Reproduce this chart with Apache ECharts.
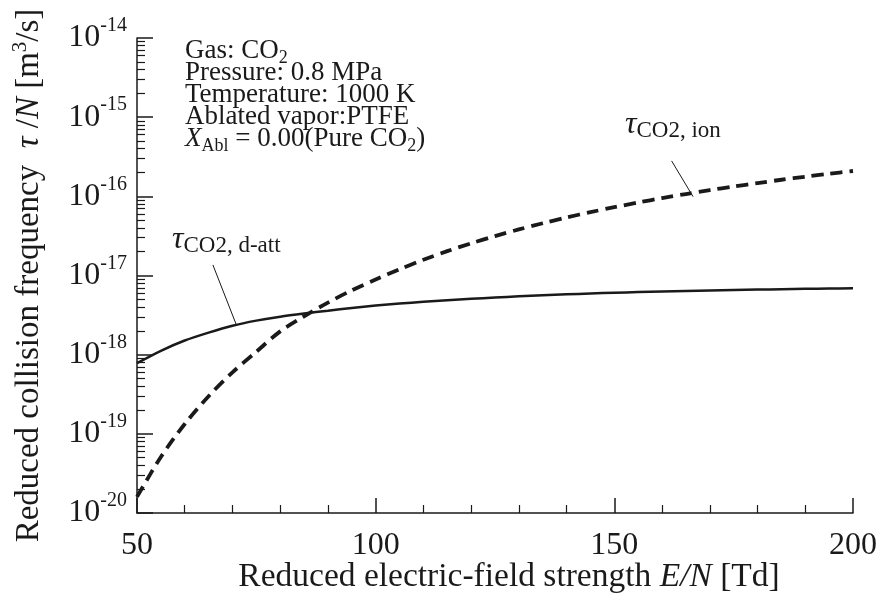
<!DOCTYPE html>
<html>
<head>
<meta charset="utf-8">
<title>Reduced collision frequency</title>
<style>
  html, body { margin: 0; padding: 0; background: #fff; }
  #chart { width: 879px; height: 593px; }
</style>
</head>
<body>
<div id="chart"></div>
<script src="https://cdn.jsdelivr.net/npm/echarts@6/dist/echarts.min.js"></script>
<script>
  // reduced electric-field strength E/N [Td]
  var fieldStrength = [50, 55, 60, 65, 70, 75, 80, 85, 90, 95, 100, 105, 110, 115, 120, 125,
                       130, 135, 140, 145, 150, 155, 160, 165, 170, 175, 180, 185, 190, 195, 200];
  // tau_CO2,d-att / N [m3/s]  (solid)
  var tauDatt = [7.8e-19, 1.12e-18, 1.51e-18, 1.9e-18, 2.32e-18, 2.69e-18, 3.02e-18, 3.31e-18,
                 3.59e-18, 3.89e-18, 4.17e-18, 4.42e-18, 4.66e-18, 4.88e-18, 5.08e-18, 5.27e-18,
                 5.46e-18, 5.62e-18, 5.78e-18, 5.93e-18, 6.05e-18, 6.17e-18, 6.28e-18, 6.38e-18,
                 6.47e-18, 6.56e-18, 6.64e-18, 6.71e-18, 6.78e-18, 6.84e-18, 6.89e-18];
  // tau_CO2,ion / N [m3/s]  (dashed)
  var tauIon = [1.6e-20, 5.1e-20, 1.33e-19, 2.99e-19, 5.97e-19, 1.09e-18, 1.97e-18, 3.05e-18,
                4.55e-18, 6.5e-18, 8.9e-18, 1.2e-17, 1.58e-17, 2.03e-17, 2.55e-17, 3.15e-17,
                3.82e-17, 4.57e-17, 5.41e-17, 6.31e-17, 7.3e-17, 8.36e-17, 9.5e-17, 1.07e-16,
                1.2e-16, 1.33e-16, 1.47e-16, 1.62e-16, 1.77e-16, 1.93e-16, 2.09e-16];
  // y axis decades (tick labels 10^n) and minor tick multipliers
  var yExponents = [-20, -19, -18, -17, -16, -15, -14];
  var yMinorMult = [2, 3, 4, 5, 6, 7, 8, 9];

  var FONT = '"Liberation Serif", "DejaVu Serif", serif';
  var INK = '#1a1a1a';

  var yMajor = yExponents.map(function (e) { return Math.pow(10, e); });
  var yMinor = [];
  for (var i = 0; i < yExponents.length - 1; i++) {
    for (var j = 0; j < yMinorMult.length; j++) {
      yMinor.push(yMinorMult[j] * Math.pow(10, yExponents[i]));
    }
  }

  function pairs(ys) {
    return fieldStrength.map(function (x, k) { return [x, ys[k]]; });
  }

  var chart = echarts.init(document.getElementById('chart'), null, { renderer: 'canvas' });

  // condition box, top-left
  var infoLines = [
    'Gas: CO{sub|2}',
    'Pressure: 0.8 MPa',
    'Temperature: 1000 K',
    'Ablated vapor:PTFE',
    '{it|X}{sub|Abl} = 0.00(Pure CO{sub|2})'
  ];
  var infoGraphics = infoLines.map(function (t, k) {
    return {
      type: 'text', x: 185, y: 51 + k * 22, z: 10,
      style: {
        text: t, fill: INK, fontFamily: FONT, fontSize: 27, textVerticalAlign: 'middle',
        rich: {
          sub: { fontFamily: FONT, fontSize: 18, padding: [14, 0, 0, 0], fill: INK },
          it: { fontFamily: FONT, fontSize: 27, fontStyle: 'italic', fill: INK }
        }
      }
    };
  });

  function tauLabel(x, y, subText) {
    return {
      type: 'text', x: x, y: y, z: 10,
      style: {
        text: '{t|τ}{s|' + subText + '}', fill: INK, textVerticalAlign: 'middle',
        rich: {
          t: { fontFamily: FONT, fontSize: 32, fontStyle: 'italic', fill: INK },
          s: { fontFamily: FONT, fontSize: 23, padding: [12, 0, 0, 0], fill: INK }
        }
      }
    };
  }

  chart.setOption({
    backgroundColor: '#fff',
    animation: false,
    grid: { left: 137, right: 26, top: 38, bottom: 80, containLabel: false, outerBoundsMode: 'none' },
    xAxis: {
      type: 'value', min: 50, max: 200, interval: 50,
      axisLine: { lineStyle: { color: INK, width: 1.5 } },
      axisTick: { inside: true, length: 15, lineStyle: { color: INK, width: 1.5 } },
      minorTick: { show: true, splitNumber: 5, length: 8, lineStyle: { color: INK, width: 1.2 } },
      splitLine: { show: false },
      axisLabel: { margin: 17, color: INK, fontFamily: FONT, fontSize: 32, showMinLabel: true, showMaxLabel: true },
      name: 'Reduced electric-field strength {i|E/N} [Td]',
      nameLocation: 'middle', nameGap: 47, nameMoveOverlap: false,
      nameTextStyle: {
        color: INK, fontFamily: FONT, fontSize: 33.5, padding: [0, 0, 0, 28],
        rich: { i: { fontFamily: FONT, fontSize: 33.5, fontStyle: 'italic', color: INK } }
      }
    },
    yAxis: [{
      type: 'log', logBase: 10, min: 1e-20, max: 1e-14, position: 'left',
      axisLine: { lineStyle: { color: INK, width: 1.5 } },
      axisTick: { inside: true, length: 16, customValues: yMajor, lineStyle: { color: INK, width: 1.5 } },
      splitLine: { show: false },
      axisLabel: {
        margin: 10, customValues: yMajor, color: INK, showMinLabel: true, showMaxLabel: true,
        formatter: function (v) { return '{b|10}{s|' + Math.round(Math.log10(v)) + '}'; },
        rich: {
          b: { fontFamily: FONT, fontSize: 32, color: INK },
          s: { fontFamily: FONT, fontSize: 20, color: INK, padding: [0, 0, 24, 0] }
        }
      },
      name: 'Reduced collision frequency  {i|τ} /{i|N} [m{sup|3}/s]',
      nameLocation: 'middle', nameGap: 88, nameRotate: 90, nameMoveOverlap: false,
      nameTextStyle: {
        color: INK, fontFamily: FONT, fontSize: 33,
        rich: {
          i: { fontFamily: FONT, fontSize: 33, fontStyle: 'italic', color: INK },
          sup: { fontFamily: FONT, fontSize: 21, color: INK, padding: [0, 0, 18, 0] }
        }
      }
    }, {
      type: 'log', logBase: 10, min: 1e-20, max: 1e-14, position: 'left',
      axisLine: { show: false },
      axisTick: { inside: true, length: 8, customValues: yMinor, lineStyle: { color: INK, width: 1.2 } },
      axisLabel: { show: false },
      splitLine: { show: false }
    }],
    series: [{
      name: 'd-att', type: 'line', yAxisIndex: 0, data: pairs(tauDatt),
      showSymbol: false, smooth: 0.3, silent: true,
      lineStyle: { color: INK, width: 2.5, type: 'solid' },
      markLine: {
        silent: true, symbol: 'none', label: { show: false },
        lineStyle: { color: INK, width: 1, type: 'solid' },
        data: [
          [{ coord: [65.9, 1.36e-17] }, { coord: [70.9, 2.31e-18] }],
          [{ coord: [162, 2.8e-16] }, { coord: [166.5, 9.9e-17] }]
        ]
      }
    }, {
      name: 'ion', type: 'line', yAxisIndex: 0, data: pairs(tauIon),
      showSymbol: false, smooth: 0.3, silent: true,
      lineStyle: { color: INK, width: 3.8, type: [12, 7] }
    }],
    graphic: infoGraphics.concat([
      tauLabel(172, 240, 'CO2, d-att'),
      tauLabel(625, 125, 'CO2, ion')
    ])
  });
</script>
</body>
</html>
